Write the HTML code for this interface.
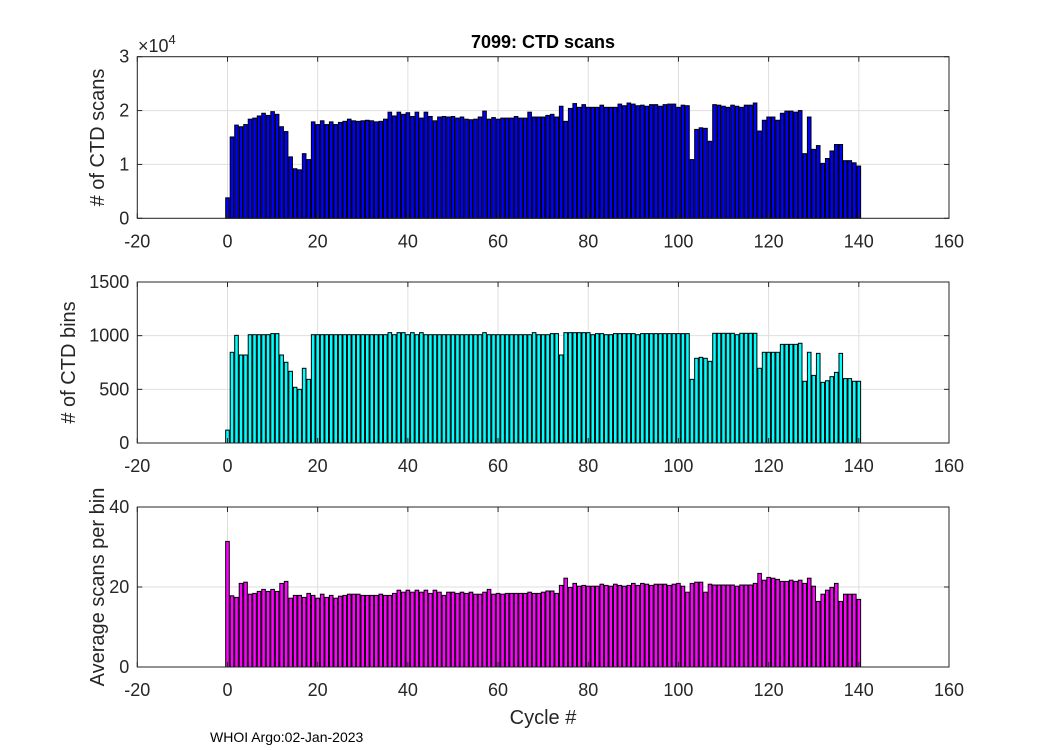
<!DOCTYPE html>
<html><head><meta charset="utf-8"><style>
body{margin:0;background:#fff;}
svg{display:block;font-family:"Liberation Sans",Arial,sans-serif;}
</style></head><body>
<svg id="chart" width="1050" height="750" viewBox="0 0 1050 750" xmlns="http://www.w3.org/2000/svg">
<rect width="1050" height="750" fill="#fff"/>
</svg>
<script>
const scans = [0.38,1.51,1.73,1.70,1.74,1.84,1.86,1.90,1.95,1.91,1.98,1.93,1.70,1.61,1.14,0.92,0.90,1.20,1.09,1.79,
1.74,1.81,1.74,1.79,1.74,1.78,1.80,1.84,1.81,1.80,1.81,1.82,1.81,1.79,1.80,1.84,1.97,1.90,1.97,1.93,
1.96,1.89,1.97,1.86,1.97,1.89,1.81,1.88,1.89,1.88,1.89,1.86,1.88,1.84,1.83,1.84,1.88,1.99,1.84,1.87,
1.84,1.86,1.86,1.86,1.89,1.86,1.86,1.97,1.88,1.88,1.88,1.91,1.93,1.88,2.08,1.80,2.04,2.13,2.06,2.11,
2.06,2.06,2.06,2.10,2.06,2.06,2.06,2.12,2.09,2.14,2.12,2.09,2.10,2.08,2.11,2.11,2.08,2.11,2.12,2.12,
2.06,2.10,2.09,1.09,1.65,1.68,1.67,1.43,2.11,2.10,2.08,2.06,2.10,2.08,2.06,2.10,2.10,2.14,1.62,1.82,
1.88,1.88,1.82,1.95,1.99,1.99,1.97,2.00,1.20,1.88,1.28,1.35,1.02,1.11,1.25,1.37,1.37,1.07,1.07,1.03,0.97];
const bins = [120,845,1003,820,820,1009,1009,1009,1009,1009,1019,1019,820,752,668,519,500,696,593,1009,
1009,1009,1009,1009,1009,1009,1009,1009,1009,1009,1009,1009,1009,1009,1009,1009,1028,1009,1028,1028,
1009,1028,1009,1028,1009,1009,1009,1009,1009,1009,1009,1009,1009,1009,1009,1009,1009,1028,1009,1009,
1009,1009,1009,1009,1009,1009,1009,1009,1028,1009,1009,1009,1019,1019,820,1028,1028,1028,1028,1028,
1028,1009,1019,1019,1009,1009,1019,1019,1019,1019,1019,1009,1019,1019,1019,1019,1019,1019,1019,1019,
1019,1019,1019,593,789,798,789,761,1022,1022,1022,1022,1022,1009,1022,1022,1022,1022,696,845,
845,845,845,919,919,919,919,929,575,845,630,835,565,580,618,658,835,600,600,575,575];
const avg = [31.4,17.8,17.4,20.9,21.2,18.2,18.4,18.9,19.4,18.9,19.4,18.9,20.9,21.4,17.2,17.9,17.9,17.4,18.4,17.9,
17.2,18.2,17.4,17.9,17.2,17.7,17.9,18.2,18.2,18.2,17.9,17.9,17.9,17.9,18.2,17.9,17.9,18.4,19.2,18.7,
19.2,18.7,19.2,18.7,19.2,18.4,19.2,18.7,17.9,18.7,18.7,18.4,18.7,18.4,18.7,18.2,18.2,18.7,19.4,18.2,
18.4,18.2,18.4,18.4,18.4,18.4,18.4,18.7,18.4,18.4,18.7,19.0,19.0,18.4,20.4,22.2,19.9,20.9,20.2,20.4,
20.2,20.2,20.2,20.7,20.4,20.2,20.7,20.4,20.2,20.4,20.9,20.4,20.9,20.7,20.4,20.7,20.7,20.7,20.4,20.7,
20.9,20.2,18.7,20.9,21.2,21.2,18.7,20.7,20.5,20.5,20.5,20.5,20.5,20.2,20.5,20.5,20.5,20.9,23.4,21.7,
22.4,22.2,21.9,21.4,21.4,21.7,21.4,21.7,20.9,22.2,20.2,16.4,18.2,19.2,19.9,20.9,16.4,18.2,18.2,18.2,16.9];
const xTicks = [-20,0,20,40,60,80,100,120,140,160];
const yTicks1 = [0,1,2,3];
const yTicks2 = [0,500,1000,1500];
const yTicks3 = [0,20,40];

const NS='http://www.w3.org/2000/svg';
const svg=document.getElementById('chart');
function mk(tag,attrs,parent){const e=document.createElementNS(NS,tag);for(const k in attrs)e.setAttribute(k,attrs[k]);(parent||svg).appendChild(e);return e;}
const L=137.3,R=949;
function xs(v){return L+(v+20)/180*(R-L);}

function panel(name,top,bottom,ymax,yt,vals,scale,color,ylabel,labX){
  const g=mk('g',{});
  
  
  function ys(v){return bottom-(v/ymax)*(bottom-top);}
  mk('rect',{x:L,y:top,width:R-L,height:bottom-top,fill:'#fff'},g);
  xTicks.forEach(t=>{const l=mk('line',{x1:xs(t),x2:xs(t),y1:top,y2:bottom,stroke:'#dfdfdf','stroke-width':1},g);
    });
  yt.forEach(t=>{const l=mk('line',{x1:L,x2:R,y1:ys(t),y2:ys(t),stroke:'#dfdfdf','stroke-width':1},g);
    });
  const bw=0.8*(R-L)/180;
  vals.forEach((v,i)=>{const y=ys(v*scale);const r=mk('rect',{x:xs(i)-bw/2,y:y,width:bw,height:bottom-y,fill:color,stroke:'#000','stroke-width':1},g);
    });
  const box=mk('rect',{x:L,y:top,width:R-L,height:bottom-top,fill:'none',stroke:'#262626','stroke-width':1},g);
  
  xTicks.forEach(t=>{mk('line',{x1:xs(t),x2:xs(t),y1:bottom,y2:bottom-5,stroke:'#262626'},g);mk('line',{x1:xs(t),x2:xs(t),y1:top,y2:top+5,stroke:'#262626'},g);
    const tx=mk('text',{x:xs(t),y:bottom+29,'font-size':18,'text-anchor':'middle',fill:'#262626'},g);tx.textContent=t;
    });
  yt.forEach(t=>{mk('line',{x1:L,x2:L+5,y1:ys(t),y2:ys(t),stroke:'#262626'},g);mk('line',{x1:R,x2:R-5,y1:ys(t),y2:ys(t),stroke:'#262626'},g);
    const tx=mk('text',{x:L-8,y:ys(t)+6,'font-size':18,'text-anchor':'end',fill:'#262626'},g);tx.textContent=t;
    });
  const cy=(top+bottom)/2;
  const yl=mk('text',{x:0,y:0,'font-size':20,'text-anchor':'middle',fill:'#262626',transform:'translate('+labX+','+cy+') rotate(-90)'},g);
  yl.textContent=ylabel;
  
}
panel('ctd-scans',56.7,218.3,3,yTicks1,scans,1,'#0000ff','# of CTD scans',104);
panel('ctd-bins',282,443,1500,yTicks2,bins,1,'#00ffff','# of CTD bins',75);
panel('avg-scans',507,667,40,yTicks3,avg,1,'#ff00ff','Average scans per bin',104);

const t=mk('text',{x:543,y:48,'font-size':18,'font-weight':'bold','text-anchor':'middle',fill:'#000'});
t.textContent='7099: CTD scans';


const ex=mk('text',{x:138,y:52,'font-size':18,fill:'#262626'});
ex.innerHTML='×10<tspan dy="-8" font-size="13">4</tspan>';


const xl=mk('text',{x:543,y:724,'font-size':20,'text-anchor':'middle',fill:'#262626'});
xl.textContent='Cycle #';


const ft=mk('text',{x:210,y:742,'font-size':14,fill:'#000'});
ft.textContent='WHOI Argo:02-Jan-2023';


</script>
</body></html>
